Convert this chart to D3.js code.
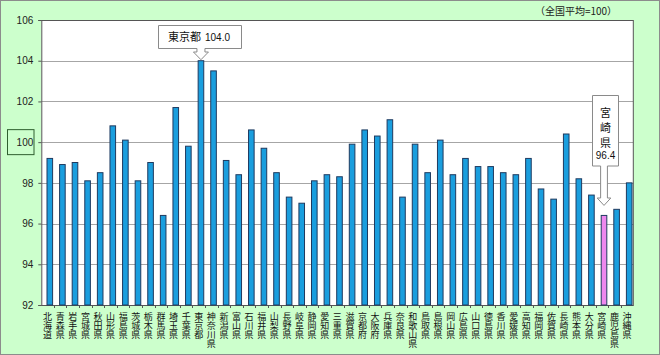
<!DOCTYPE html>
<html><head><meta charset="utf-8">
<script src="https://cdn.jsdelivr.net/npm/d3@7"></script>
<style>
html,body{margin:0;padding:0;background:#fff;}
svg{display:block;}
text{font-family:"Liberation Sans","Noto Sans CJK JP",sans-serif;}
.jp{font-family:"Noto Sans CJK JP",sans-serif;}
</style></head>
<body>
<script>
const prefectures = ["北海道","青森県","岩手県","宮城県","秋田県","山形県","福島県","茨城県","栃木県","群馬県","埼玉県","千葉県","東京都","神奈川県","新潟県","富山県","石川県","福井県","山梨県","長野県","岐阜県","静岡県","愛知県","三重県","滋賀県","京都府","大阪府","兵庫県","奈良県","和歌山県","鳥取県","島根県","岡山県","広島県","山口県","徳島県","香川県","愛媛県","高知県","福岡県","佐賀県","長崎県","熊本県","大分県","宮崎県","鹿児島県","沖縄県"];
const values = [99.2,98.9,99.0,98.1,98.5,100.8,100.1,98.1,99.0,96.4,101.7,99.8,104.0,103.5,99.1,98.4,100.6,99.7,98.5,97.3,97.0,98.1,98.4,98.3,99.9,100.6,100.3,101.1,97.3,99.9,98.5,100.1,98.4,99.2,98.8,98.8,98.5,98.4,99.2,97.7,97.2,100.4,98.2,97.4,96.4,96.7,98.0];
const yTicks = [92,94,96,98,100,102,104,106];
const highlight = "宮崎県";
const calloutTop = "東京都";
const note = "（全国平均=100）";

const W = 660, H = 355;
const L = 41.3, R = 633.3, T = 20, B = 305;

const svg = d3.select("body").append("svg").attr("width", W).attr("height", H);
svg.append("rect").attr("x",0.5).attr("y",0.5).attr("width",W-1).attr("height",H-1)
  .attr("fill","#ccffcc").attr("stroke","#8c8c8c");

const x = d3.scaleBand().domain(prefectures).range([L, R]).paddingInner(0).paddingOuter(0);
const y = d3.scaleLinear().domain([92,106]).range([B, T]);

svg.append("rect").attr("x",L).attr("y",T).attr("width",R-L).attr("height",B-T).attr("fill","#fff");

// grid
svg.append("g").selectAll("line").data(yTicks).join("line")
  .attr("x1",L).attr("x2",R).attr("y1",d=>Math.round(y(d))+0.5).attr("y2",d=>Math.round(y(d))+0.5)
  .attr("stroke",d=>d===106?"#555":"#a6a6a6").attr("stroke-width",1);

// right border
svg.append("line").attr("x1",R).attr("x2",R).attr("y1",T).attr("y2",B).attr("stroke","#555");

// y axis
const yAxis = d3.axisLeft(y).tickValues(yTicks).tickSize(3).tickPadding(5);
const gy = svg.append("g").attr("transform",`translate(${L},0)`).call(yAxis);
gy.select(".domain").attr("stroke","#555");
gy.selectAll(".tick line").attr("stroke","#555");
gy.selectAll(".tick text").attr("font-size","10px").attr("fill","#222")
  .attr("font-family","Liberation Sans, sans-serif");

// box around 100
svg.append("rect").attr("x",7.5).attr("y",y(100)-12.5).attr("width",26.5).attr("height",25)
  .attr("fill","none").attr("stroke","#2f5f2f").attr("stroke-width",1);

// x axis
const bw = 5.6, off = 2.2;
const xAxis = d3.axisBottom(x).tickSize(0).tickFormat("");
const gx = svg.append("g").attr("transform",`translate(0,${B})`).call(xAxis);
gx.select(".domain").attr("stroke","#555");
// category boundary ticks
svg.append("g").selectAll("line").data(prefectures.slice(1)).join("line")
  .attr("x1",d=>Math.round(x(d))+0.5).attr("x2",d=>Math.round(x(d))+0.5)
  .attr("y1",B).attr("y2",B+3).attr("stroke","#555");

// bars
svg.append("g").selectAll("rect").data(prefectures).join("rect")
  .attr("x",(d)=>x(d)+x.bandwidth()/2-bw/2+off)
  .attr("y",(d,i)=>y(values[i]))
  .attr("width",bw)
  .attr("height",(d,i)=>B-y(values[i]))
  .attr("fill",d=>d===highlight?"#ee88ee":"#1a9ede")
  .attr("stroke","#1f3a5f").attr("stroke-width",1);

// x labels (vertical, one glyph per line)
const lab = svg.append("g").attr("class","jp");
prefectures.forEach((p)=>{
  const cx = x(p)+x.bandwidth()/2;
  const t = lab.append("text").attr("font-size","9px").attr("fill","#111").attr("text-anchor","middle");
  [...p].forEach((ch,j)=>{
    t.append("tspan").attr("x",cx).attr("y",319.5+j*9.2).text(ch);
  });
});

// note
svg.append("text").attr("class","jp").attr("x",576).attr("y",15).attr("text-anchor","middle")
  .attr("font-size","10px").attr("fill","#222").text(note);

// Tokyo callout
{
  const i = prefectures.indexOf(calloutTop);
  const cx = x(calloutTop)+x.bandwidth()/2+off;
  const tipY = y(values[i])-1;
  const bx0=158.5, bx1=241.5, by0=25.5, by1=48.5;
  const sw=4, hw=7.5, neckY=52;
  const path = `M${bx0},${by0}H${bx1}V${by1}H${cx+sw}V${neckY}H${cx+hw}L${cx},${tipY}L${cx-hw},${neckY}H${cx-sw}V${by1}H${bx0}Z`;
  svg.append("path").attr("d",path).attr("fill","#fff").attr("stroke","#8a8a8a");
  svg.append("text").attr("class","jp").attr("x",168).attr("y",41).attr("font-size","11px").attr("fill","#111").text(calloutTop);
  svg.append("text").attr("x",205).attr("y",41).attr("font-size","10px").attr("fill","#111")
    .attr("font-family","Liberation Sans, sans-serif").text(d3.format(".1f")(values[i]));
}
// Miyazaki callout
{
  const i = prefectures.indexOf(highlight);
  const cx = x(highlight)+x.bandwidth()/2+off;
  const tipY = y(values[i])-10;
  const bx0=592.5, bx1=618.5, by0=95.5, by1=166;
  const sw=3.4, hw=6.8, neckY=198;
  const path = `M${bx0},${by0}H${bx1}V${by1}H${cx+sw}V${neckY}H${cx+hw}L${cx},${tipY}L${cx-hw},${neckY}H${cx-sw}V${by1}H${bx0}Z`;
  svg.append("path").attr("d",path).attr("fill","#fff").attr("stroke","#8a8a8a");
  const mx = (bx0+bx1)/2;
  [...highlight].forEach((ch,j)=>{
    svg.append("text").attr("class","jp").attr("x",mx).attr("y",117+j*15).attr("text-anchor","middle")
      .attr("font-size","11px").attr("fill","#111").text(ch);
  });
  svg.append("text").attr("x",mx).attr("y",159).attr("text-anchor","middle").attr("font-size","10px")
    .attr("font-family","Liberation Sans, sans-serif").attr("fill","#111").text(d3.format(".1f")(values[i]));
}
</script>
</body></html>
